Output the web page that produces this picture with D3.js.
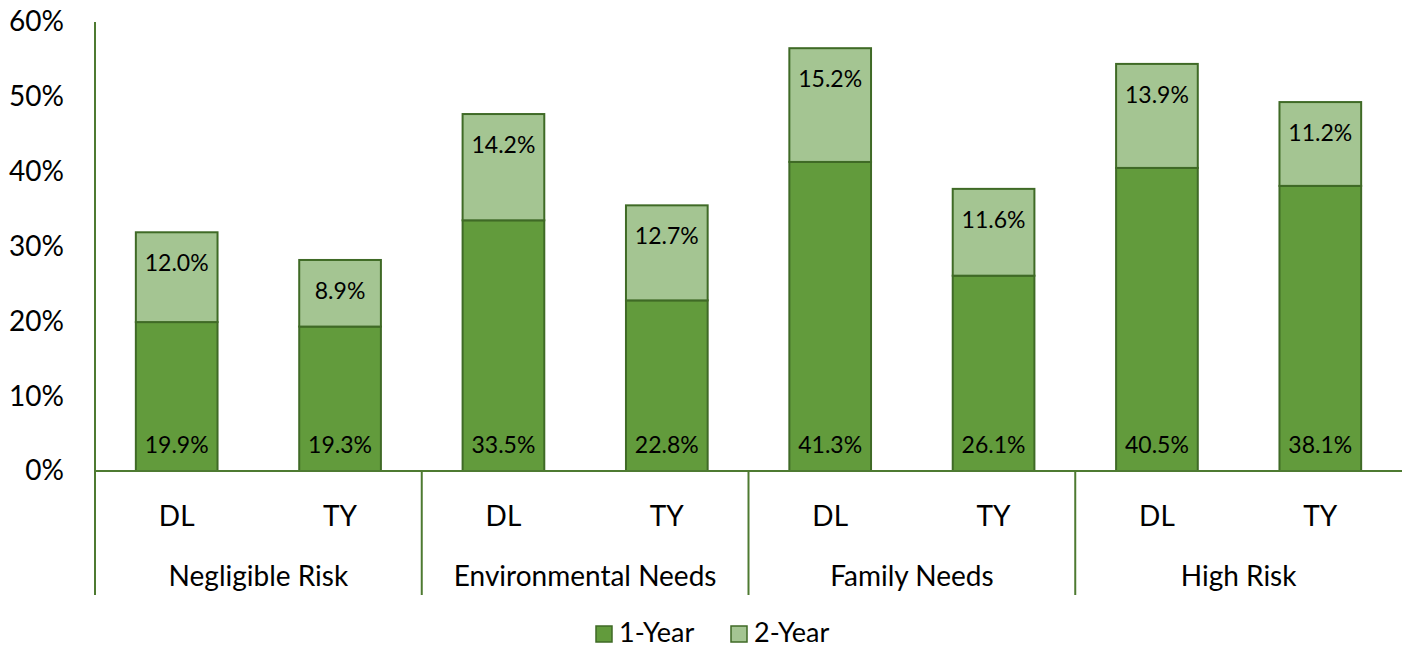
<!DOCTYPE html>
<html>
<head>
<meta charset="utf-8">
<script src="https://cdn.jsdelivr.net/npm/d3@7"></script>
<style>
  html, body { margin: 0; padding: 0; background: #fff; }
  svg { display: block; font-family: Lato, "Open Sans", "Liberation Sans", sans-serif; }
</style>
</head>
<body>
<svg id="chart" width="1402" height="648"></svg>
<script>
// Groups, sub-categories and stacked series values (percent)
const groups = ["Negligible Risk", "Environmental Needs", "Family Needs", "High Risk"];
const subs = ["DL", "TY"];
const seriesNames = ["1-Year", "2-Year"];
const oneYear = [19.9, 19.3, 33.5, 22.8, 41.3, 26.1, 40.5, 38.1];
const twoYear = [12.0, 8.9, 14.2, 12.7, 15.2, 11.6, 13.9, 11.2];
const yTicks = [0, 10, 20, 30, 40, 50, 60];

const colors = { "1-Year": "#629b3c", "2-Year": "#a4c592" };
const strokeCol = "#3f6a26";
const axisCol = "#4e7a31";
const fontFam = "Lato, 'Open Sans', sans-serif";

const svg = d3.select("#chart");
const plotLeft = 95, plotRight = 1402, plotTop = 22, plotBottom = 471, axisFoot = 595;

// Flatten into rows keyed by group + sub-category
const rows = [];
groups.forEach((g, gi) => subs.forEach((s, si) => {
  const i = gi * subs.length + si;
  rows.push({ key: g + "|" + s, group: g, sub: s, "1-Year": oneYear[i], "2-Year": twoYear[i] });
}));

const x = d3.scaleBand().domain(rows.map(r => r.key)).range([plotLeft, plotRight]).paddingInner(0.5).paddingOuter(0.25);
const xGroup = d3.scaleBand().domain(groups).range([plotLeft, plotRight]);
const y = d3.scaleLinear().domain([0, 60]).range([plotBottom, plotTop]);

const layers = d3.stack().keys(seriesNames)(rows);

// Bars
layers.forEach(layer => {
  svg.append("g").selectAll("rect").data(layer).join("rect")
    .attr("x", d => x(d.data.key))
    .attr("width", x.bandwidth())
    .attr("y", d => y(d[1]))
    .attr("height", d => y(d[0]) - y(d[1]))
    .attr("fill", colors[layer.key])
    .attr("stroke", strokeCol)
    .attr("stroke-width", 2);
});

// Data labels: 1-Year at the bar base, 2-Year at the inside end
const lbl = svg.append("g").attr("font-size", 23).attr("fill", "#000").attr("text-anchor", "middle");
layers[0].forEach(d => {
  lbl.append("text")
    .attr("x", x(d.data.key) + x.bandwidth() / 2)
    .attr("y", y(d[0]) - 18)
    .text(d.data["1-Year"].toFixed(1) + "%");
});
layers[1].forEach(d => {
  lbl.append("text")
    .attr("x", x(d.data.key) + x.bandwidth() / 2)
    .attr("y", y(d[1]) + 39)
    .text(d.data["2-Year"].toFixed(1) + "%");
});

// Y axis (labels only, no ticks)
const yAxis = svg.append("g").attr("transform", `translate(${plotLeft},0)`)
  .call(d3.axisLeft(y).tickValues(yTicks).tickSize(0).tickPadding(31).tickFormat(d => d + "%"));
yAxis.select(".domain").remove();
yAxis.attr("font-family", fontFam);
yAxis.selectAll("text").attr("font-size", 28).attr("fill", "#000");
svg.append("line").attr("x1", plotLeft).attr("x2", plotLeft).attr("y1", plotTop).attr("y2", axisFoot)
  .attr("stroke", axisCol).attr("stroke-width", 2);

// Baseline
svg.append("line").attr("x1", plotLeft).attr("x2", plotRight).attr("y1", plotBottom).attr("y2", plotBottom)
  .attr("stroke", axisCol).attr("stroke-width", 2);

// Group separators
groups.slice(1).forEach(g => {
  svg.append("line").attr("x1", xGroup(g)).attr("x2", xGroup(g)).attr("y1", plotBottom).attr("y2", axisFoot)
    .attr("stroke", axisCol).attr("stroke-width", 2);
});

// Sub-category labels
svg.append("g").selectAll("text").data(rows).join("text")
  .attr("x", d => x(d.key) + x.bandwidth() / 2)
  .attr("y", 526)
  .attr("text-anchor", "middle").attr("font-size", 28).attr("fill", "#000")
  .text(d => d.sub);

// Group labels
svg.append("g").selectAll("text").data(groups).join("text")
  .attr("x", d => xGroup(d) + xGroup.bandwidth() / 2)
  .attr("y", 586)
  .attr("text-anchor", "middle").attr("font-size", 28).attr("fill", "#000")
  .text(d => d);

// Legend
const legend = svg.append("g");
const legendX = [596, 731];
seriesNames.forEach((s, i) => {
  legend.append("rect").attr("x", legendX[i]).attr("y", 626).attr("width", 16).attr("height", 16)
    .attr("fill", colors[s]).attr("stroke", strokeCol).attr("stroke-width", 1.5);
  legend.append("text").attr("x", legendX[i] + 23).attr("y", 642)
    .attr("font-size", 27).attr("fill", "#000").text(s);
});
</script>
</body>
</html>
